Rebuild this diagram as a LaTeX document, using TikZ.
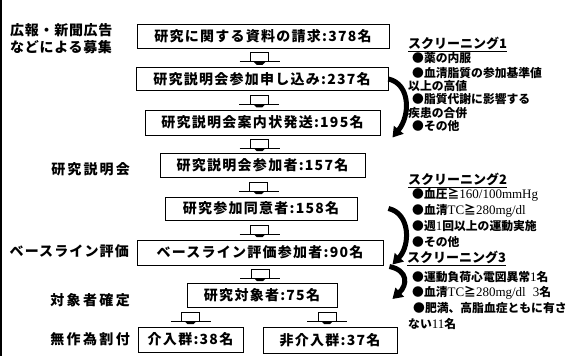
\documentclass[tikz,border=0pt]{standalone}
\usepackage{fontspec}
\setmainfont{Noto Sans CJK JP}
\newfontfamily\ser{Liberation Serif}
\usetikzlibrary{arrows.meta,calc}
\tikzset{
  box/.style={draw, line width=0.9pt, inner sep=0pt, minimum height=24pt,
    font=\fontsize{14}{14}\selectfont\bfseries\addfontfeatures{LetterSpace=9}},
  lab/.style={inner sep=0pt, anchor=east,
    font=\fontsize{14}{14}\selectfont\bfseries},
  scr/.style={inner sep=0pt, anchor=west,
    font=\fontsize{11.8}{12}\selectfont\bfseries},
  scrh/.style={inner sep=0pt, anchor=west,
    font=\fontsize{13}{13}\selectfont\bfseries},
  curv/.style={line width=5pt, -{Triangle[length=10pt,width=12pt]}},
  pics/blockarr/.style={code={
    \draw[line width=0.8pt] (-9,-5) rectangle (9,4);
    \draw[line width=0.8pt] (-20,4) -- (20,4);
    \fill (-6,4) -- (6,4) -- (3,7) -- (-3,7) -- cycle;
  }}
}
\begin{document}
\begin{tikzpicture}[x=1pt,y=-1pt]
\useasboundingbox (0,0) rectangle (572,356);
\draw[line width=1.5pt] (0.75,0) -- (0.75,356);
% boxes
\node[box, minimum width=252pt] (b1) at (263,36) {研究に関する資料の請求:378名};
\node[box, minimum width=252pt, minimum height=23pt] (b2) at (262,79) {研究説明会参加申し込み:237名};
\node[box, minimum width=235pt, minimum height=25pt] (b3) at (262.5,122.5) {研究説明会案内状発送:195名};
\node[box, minimum width=205pt] (b4) at (262.5,165) {研究説明会参加者:157名};
\node[box, minimum width=192pt, minimum height=23pt] (b5) at (261,208.5) {研究参加同意者:158名};
\node[box, minimum width=246pt, minimum height=25pt] (b6) at (260,252.5) {ベースライン評価参加者:90名};
\node[box, minimum width=150pt] (b7) at (262,295) {研究対象者:75名};
\node[box, minimum width=105pt, minimum height=25pt] (b8) at (190.5,339.5) {介入群:38名};
\node[box, minimum width=134pt, minimum height=26pt] (b9) at (330,340) {非介入群:37名};
% block arrows
\pic at ($(b1.south)!0.5!(b2.north)+(-3,0)$) {blockarr};
\pic at ($(b2.south)!0.5!(b3.north)+(-3,0)$) {blockarr};
\pic at ($(b3.south)!0.5!(b4.north)+(-3,0)$) {blockarr};
\pic at ($(b4.south)!0.5!(b5.north)+(-3,0)$) {blockarr};
\pic at ($(b5.south)!0.5!(b6.north)+(-1,0)$) {blockarr};
\pic at ($(b6.south)!0.5!(b7.north)+(-1,0)$) {blockarr};
\pic at ($(b7.south-|b8.north)!0.5!(b8.north)$) {blockarr};
\pic at ($(b7.south-|b9.north)!0.5!(b9.north)+(-3,0)$) {blockarr};
% left labels
\node[lab, anchor=west, font=\fontsize{14}{14}\selectfont\bfseries\addfontfeatures{LetterSpace=5}] (l1) at (10,30) {広報・新聞広告};
\node[lab, anchor=west, font=\fontsize{14}{14}\selectfont\bfseries\addfontfeatures{LetterSpace=5}] (l2) at (10,47) {などによる募集};
\node[lab, font=\fontsize{14}{14}\selectfont\bfseries\addfontfeatures{LetterSpace=15}] (l3) at (130,169) {研究説明会};
\node[lab, font=\fontsize{14}{14}\selectfont\bfseries\addfontfeatures{LetterSpace=8}] (l4) at (129,251) {ベースライン評価};
\node[lab, font=\fontsize{14}{14}\selectfont\bfseries\addfontfeatures{LetterSpace=17}] (l5) at (130,300) {対象者確定};
\node[lab, font=\fontsize{14}{14}\selectfont\bfseries\addfontfeatures{LetterSpace=17}] (l6) at (130,339) {無作為割付};
% screening 1
\node[scrh] (s1) at (408,44) {\underline{スクリーニング1}};
\node[scr] (s1a) at (412,58) {●薬の内服};
\node[scr] (s1b) at (412,73) {●血清脂質の参加基準値};
\node[scr] (s1c) at (408,86) {以上の高値};
\node[scr] (s1d) at (412,99) {●脂質代謝に影響する};
\node[scr] (s1e) at (408,113) {疾患の合併};
\node[scr] (s1f) at (412,126) {●その他};
% screening 2
\node[scrh] (s2) at (408,180) {\underline{スクリーニング2}};
\node[scr] (s2a) at (412,195) {●血圧≧{\ser\mdseries\fontsize{13}{13}\selectfont 160/100mmHg}};
\node[scr] (s2b) at (412,211) {●血清{\ser\mdseries\fontsize{13}{13}\selectfont TC}≧{\ser\mdseries\fontsize{13}{13}\selectfont 280mg/dl}};
\node[scr] (s2c) at (412,226) {●週{\ser\mdseries\fontsize{13}{13}\selectfont 1}回以上の運動実施};
\node[scr] (s2d) at (412,242) {●その他};
% screening 3
\node[scrh] (s3) at (407,258) {\underline{スクリーニング3}};
\node[scr] (s3a) at (412,277) {●運動負荷心電図異常{\ser\mdseries\fontsize{13}{13}\selectfont 1}名};
\node[scr] (s3b) at (412,293) {●血清{\ser\mdseries\fontsize{13}{13}\selectfont TC}≧{\ser\mdseries\fontsize{13}{13}\selectfont 280mg/dl}\hspace{7pt}{\ser\mdseries\fontsize{13}{13}\selectfont 3}名};
\node[scr] (s3c) at (413,308) {●肥満、高脂血症ともに有さ};
\node[scr] (s3d) at (408,324) {ない{\ser\mdseries\fontsize{13}{13}\selectfont 11}名};
% curved arrows
\coordinate (ca1) at (b2.east);
\coordinate (ca2) at ($(b3.east)+(12,15)$);
\coordinate (cb1) at ($(b5.east)+(31,0)$);
\coordinate (cb2) at ($(b6.east)+(9,12)$);
\coordinate (cc1) at ($(b6.east)+(6,14)$);
\coordinate (cc2) at ($(b7.east)+(55,4)$);
\draw[curv] (ca1) .. controls +(22,5) and +(18,-22) .. (ca2);
\draw[curv] (cb1) .. controls +(22,5) and +(18,-19) .. (cb2);
\draw[curv] (cc1) .. controls +(19,4) and +(15,-14) .. (cc2);
\end{tikzpicture}
\end{document}
